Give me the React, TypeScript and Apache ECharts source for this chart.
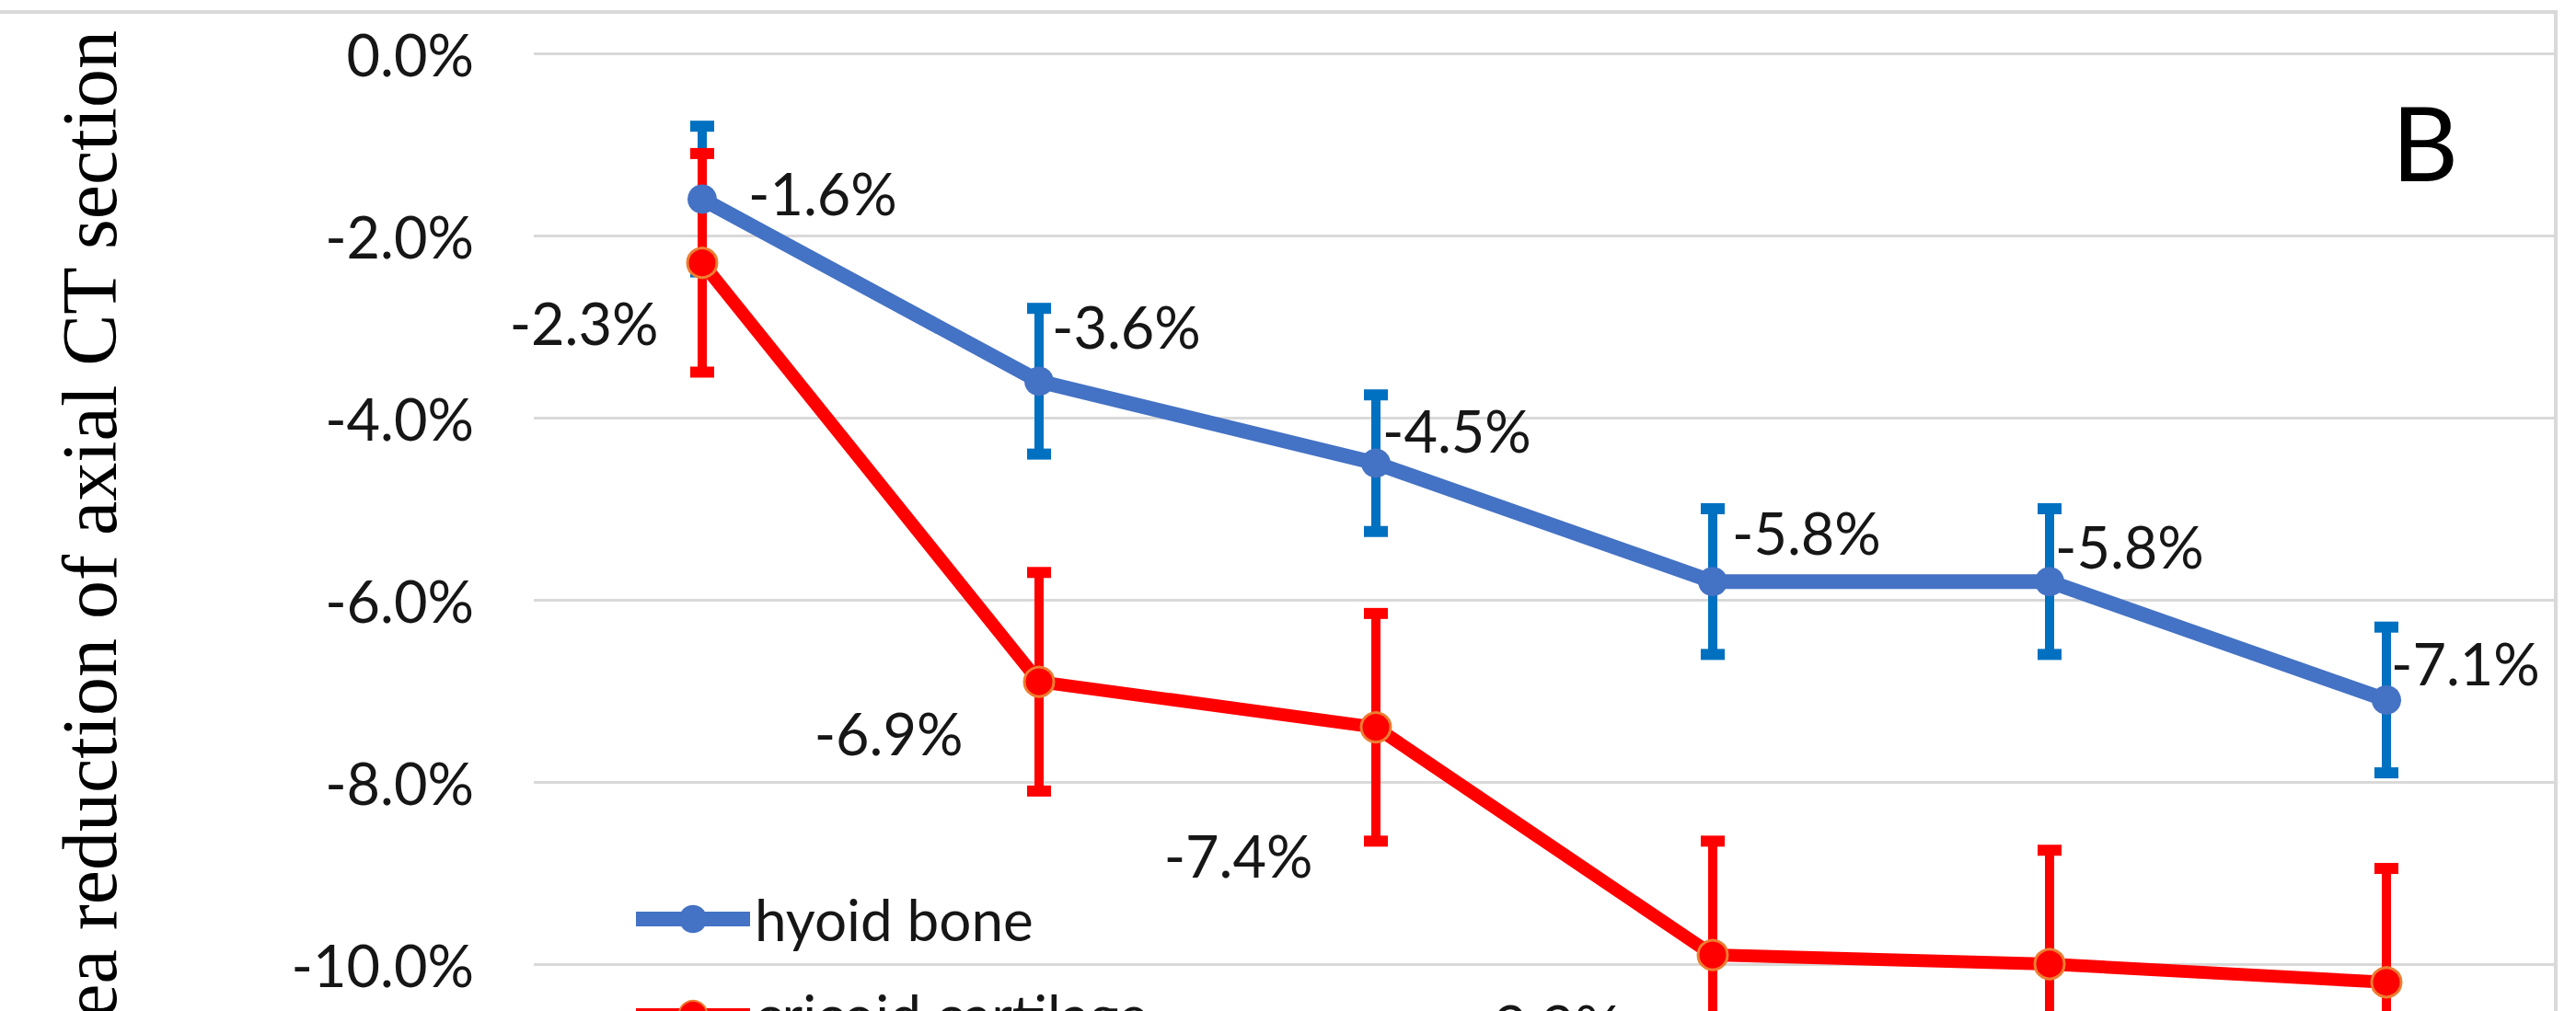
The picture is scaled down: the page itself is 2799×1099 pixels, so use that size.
import React, { useEffect, useRef } from "react";
import * as echarts from "echarts";

// Measurement points along the x axis (their labels sit below the visible area)
const categories = ["1", "2", "3", "4", "5", "6"];

// Mean area reduction (%) and standard deviation for each structure
const hyoidBone = [-1.6, -3.6, -4.5, -5.8, -5.8, -7.1];
const hyoidSD = [0.8, 0.8, 0.75, 0.8, 0.8, 0.8];
const cricoidCartilage = [-2.3, -6.9, -7.4, -9.9, -10.0, -10.2];
const cricoidSD = [1.2, 1.2, 1.25, 1.25, 1.25, 1.25];

// Value axis range and step (%)
const yMin = -12;
const yMax = 0;
const yStep = 2;

// Hand-placed data-label nudges [dx, dy] in px, measured from each marker
const hyoidLabelNudge = [[50, -7], [14, -60], [7, -36], [21, -54], [6, -39], [5, -40]];
const cricoidLabelNudge = [[-46, 65], [-81, 55], [-67, 139], [-98, 76], [-63, 74], [-63, 74]];

const BLUE_LINE = "#4472C4";
const BLUE_BAR = "#0070C0";
const RED = "#FF0000";
const ORANGE = "#ED7D31";
const TEXT = "#161616";
const GRID = "#D9D9D9";
const MARKER = 32;

const pct = (v: number) => `${v.toFixed(1)}%`;

function errorBars(name: string, means: number[], sd: number[], color: string, z: number) {
  return {
    type: "custom",
    name,
    z,
    silent: true,
    data: means.map((m, i) => [i, m - sd[i], m + sd[i]]),
    encode: { x: 0, y: [1, 2] },
    renderItem: (_params: any, api: any) => {
      const idx = api.value(0);
      const x = api.coord([idx, 0])[0];
      const yLow = api.coord([idx, api.value(1)])[1];
      const yHigh = api.coord([idx, api.value(2)])[1];
      const capW = 26;
      const capH = 12;
      return {
        type: "group",
        children: [
          {
            type: "line",
            shape: { x1: x, y1: yHigh, x2: x, y2: yLow },
            style: { stroke: color, lineWidth: 10 },
          },
          {
            type: "rect",
            shape: { x: x - capW / 2, y: yHigh - capH / 2, width: capW, height: capH },
            style: { fill: color },
          },
          {
            type: "rect",
            shape: { x: x - capW / 2, y: yLow - capH / 2, width: capW, height: capH },
            style: { fill: color },
          },
        ],
      };
    },
  };
}

function labelledPoints(values: number[], nudges: number[][], side: "left" | "right") {
  const half = MARKER / 2;
  return values.map((v, i) => ({
    value: v,
    label: {
      position: side,
      distance: 0,
      offset: side === "right" ? [nudges[i][0] - half, nudges[i][1]] : [nudges[i][0] + half, nudges[i][1]],
    },
  }));
}

export default function App() {
  const ref = useRef<HTMLDivElement>(null);

  useEffect(() => {
    if (!ref.current) return;
    const chart = echarts.init(ref.current, undefined, { renderer: "svg" });

    const labelFont = { fontFamily: "Lato", fontSize: 63, color: TEXT };

    chart.setOption({
      animation: false,
      backgroundColor: "#FFFFFF",
      grid: { left: 580, right: 23, top: 58, bottom: 54 },
      xAxis: {
        type: "category",
        data: categories,
        boundaryGap: true,
        axisLine: { show: false },
        axisTick: { show: false },
        axisLabel: { show: false },
        splitLine: { show: false },
      },
      yAxis: {
        type: "value",
        min: yMin,
        max: yMax,
        interval: yStep,
        axisLine: { show: false },
        axisTick: { show: false },
        axisLabel: { ...labelFont, margin: 65, formatter: (v: number) => pct(v) },
        splitLine: { lineStyle: { color: GRID, width: 3 } },
      },
      legend: {
        orient: "vertical",
        left: 683,
        top: 968,
        padding: 0,
        itemGap: 42,
        itemWidth: 124,
        itemHeight: 38,
        lineStyle: { width: "inherit" },
        textStyle: { ...labelFont, fontSize: 62 },
        data: ["hyoid bone", "cricoid cartilage"],
      },
      graphic: [
        {
          type: "rect",
          z: 0,
          silent: true,
          shape: { x: -20, y: 13, width: 2797, height: 1500 },
          style: { fill: "none", stroke: GRID, lineWidth: 4 },
        },
        {
          type: "text",
          x: 97,
          y: 33,
          rotation: Math.PI / 2,
          style: {
            text: "Area reduction of axial CT section",
            fontFamily: "Liberation Serif",
            fontSize: 84,
            fill: "#000000",
            align: "right",
            verticalAlign: "middle",
          },
        },
        {
          type: "text",
          x: 2635,
          y: 153,
          style: {
            text: "B",
            fontFamily: "Lato",
            fontSize: 112,
            fill: "#000000",
            align: "center",
            verticalAlign: "middle",
          },
        },
      ],
      series: [
        errorBars("hyoid SD", hyoidBone, hyoidSD, BLUE_BAR, 2),
        errorBars("cricoid SD", cricoidCartilage, cricoidSD, RED, 3),
        {
          type: "line",
          name: "hyoid bone",
          z: 4,
          data: labelledPoints(hyoidBone, hyoidLabelNudge, "right"),
          symbol: "circle",
          symbolSize: MARKER,
          lineStyle: { color: BLUE_LINE, width: 16 },
          itemStyle: { color: BLUE_LINE },
          label: { show: true, ...labelFont, formatter: (p: any) => pct(p.value) },
          emphasis: { disabled: true },
        },
        {
          type: "line",
          name: "cricoid cartilage",
          z: 5,
          data: labelledPoints(cricoidCartilage, cricoidLabelNudge, "left"),
          symbol: "circle",
          symbolSize: MARKER,
          lineStyle: { color: RED, width: 14 },
          itemStyle: { color: RED, borderColor: ORANGE, borderWidth: 3 },
          label: { show: true, ...labelFont, formatter: (p: any) => pct(p.value) },
          emphasis: { disabled: true },
        },
      ],
    });

    return () => chart.dispose();
  }, []);

  return (
    <div
      style={{
        position: "absolute",
        left: 0,
        top: 0,
        width: 2799,
        height: 1099,
        overflow: "hidden",
        background: "#FFFFFF",
      }}
    >
      <div ref={ref} style={{ width: 2799, height: 1300 }} />
    </div>
  );
}
